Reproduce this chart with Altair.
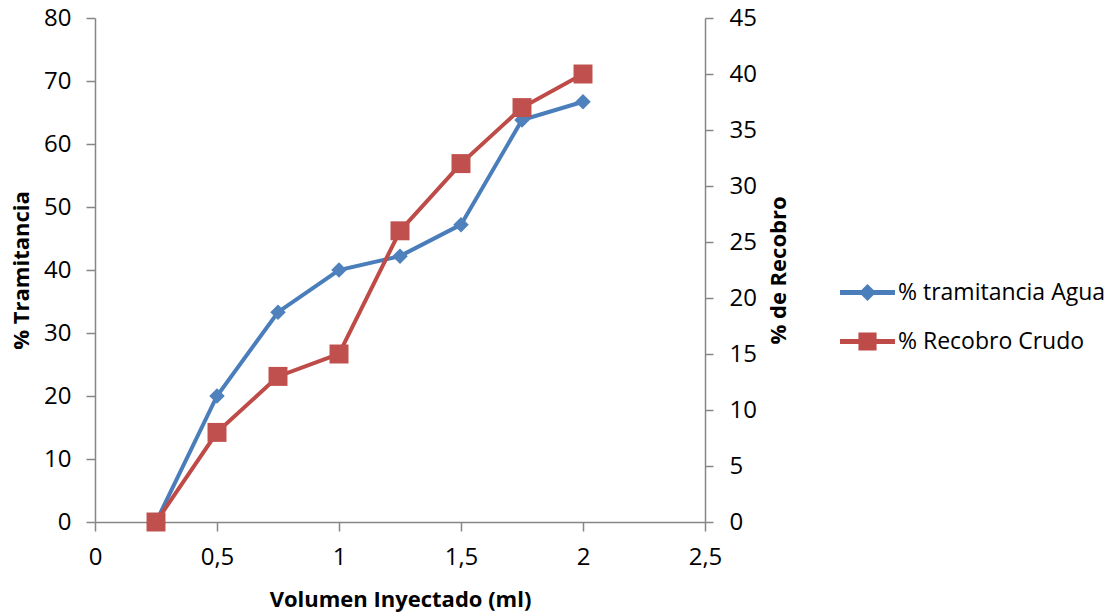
import altair as alt
import pandas as pd

x_vals = [0.25, 0.5, 0.75, 1.0, 1.25, 1.5, 1.75, 2.0]
tramitancia = [0, 20, 33.3, 40, 42.2, 47.2, 63.8, 66.7]
recobro = [0, 8, 13, 15, 26, 32, 37, 40]
series_names = ["% tramitancia Agua", "% Recobro Crudo"]
blue_line = "#4A7EBB"
blue_fill = "#4F81BD"
red_line = "#BE4B48"
red_fill = "#C0504D"

FONT = "Open Sans"

df_t = pd.DataFrame({"x": x_vals, "y": tramitancia})
df_r = pd.DataFrame({"x": x_vals, "y": recobro})
df_leg = pd.DataFrame({"serie": series_names})

x_enc = alt.X("x:Q", scale=alt.Scale(domain=[0, 2.5], nice=False),
              axis=alt.Axis(values=[0, 0.5, 1, 1.5, 2, 2.5],
                            labelExpr="replace(toString(datum.value), '.', ',')",
                            title="Volumen Inyectado (ml)", titlePadding=20,
                            labelPadding=14, tickSize=9))

yl = alt.Y("y:Q", scale=alt.Scale(domain=[0, 80], nice=False),
           axis=alt.Axis(values=list(range(0, 81, 10)), title="% Tramitancia",
                         orient="left", titlePadding=10, labelPadding=15, tickSize=9))
yr = alt.Y("y:Q", scale=alt.Scale(domain=[0, 45], nice=False),
           axis=alt.Axis(values=list(range(0, 46, 5)), title="% de Recobro",
                         orient="right", titleAngle=270, titleBaseline="top",
                         titlePadding=12, labelPadding=16, tickSize=8))

t_line = alt.Chart(df_t).mark_line(color=blue_line, strokeWidth=4).encode(x=x_enc, y=yl)
t_pts = alt.Chart(df_t).mark_point(filled=True, shape="diamond", size=240,
                                   color=blue_fill, opacity=1).encode(x=x_enc, y=yl)

diamond_path = ("M-1,-0.09 L-0.22,-0.09 L0,-0.31 L0.22,-0.09 L1,-0.09 L1,0.09 "
                "L0.22,0.09 L0,0.31 L-0.22,0.09 L-1,0.09 Z")
square_path = ("M-1,-0.09 L-0.33,-0.09 L-0.33,-0.33 L0.33,-0.33 L0.33,-0.09 L1,-0.09 "
               "L1,0.09 L0.33,0.09 L0.33,0.33 L-0.33,0.33 L-0.33,0.09 L-1,0.09 Z")

leg = alt.Legend(title=None, orient="none", legendX=745, legendY=247,
                 symbolSize=3025, symbolOpacity=1, symbolStrokeWidth=0,
                 labelFontSize=23, labelFont=FONT, labelColor="#000000",
                 labelLimit=400, rowPadding=9, labelOffset=3)

legend_layer = alt.Chart(df_leg).mark_point(filled=True, opacity=0).encode(
    color=alt.Color("serie:N",
                    scale=alt.Scale(domain=series_names, range=[blue_line, red_line]),
                    legend=leg),
    shape=alt.Shape("serie:N",
                    scale=alt.Scale(domain=series_names, range=[diamond_path, square_path]),
                    legend=leg),
)

left = alt.layer(t_line, t_pts, legend_layer)

r_line = alt.Chart(df_r).mark_line(color=red_line, strokeWidth=4).encode(x=x_enc, y=yr)
r_pts = alt.Chart(df_r).mark_point(filled=True, shape="square", size=360,
                                   color=red_fill, opacity=1).encode(x=x_enc, y=yr)
right = alt.layer(r_line, r_pts)

chart = alt.layer(left, right).resolve_scale(y="independent").properties(
    width=610, height=504,
    autosize=alt.AutoSizeParams(type="none"),
    padding={"left": 95, "top": 18, "right": 411, "bottom": 91},
    background="white",
).configure_view(stroke=None).configure_axis(
    grid=False, domainColor="#868686", tickColor="#868686", domainWidth=1.5,
    tickWidth=1.5, labelFont=FONT, labelFontSize=24, labelColor="#000000",
    titleFont=FONT, titleFontSize=22, titleFontWeight="bold", titleColor="#000000",
    labelFlush=False, labelOverlap=False,
)

chart.save("out.html", embed_options={"renderer": "svg", "actions": False})
